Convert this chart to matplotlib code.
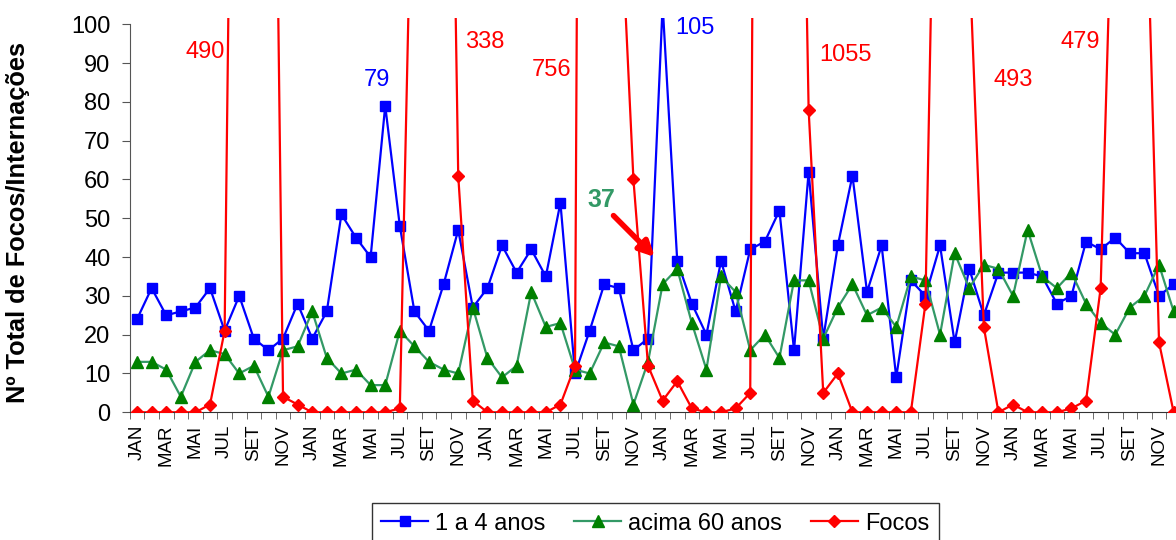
import matplotlib
matplotlib.use("Agg")
import matplotlib.pyplot as plt
import numpy as np

plt.rcParams['font.family'] = ['Liberation Sans', 'DejaVu Sans']

# monthly series, 6 years (JAN..DEZ)
months = ['JAN', 'FEV', 'MAR', 'ABR', 'MAI', 'JUN',
          'JUL', 'AGO', 'SET', 'OUT', 'NOV', 'DEZ'] * 6

idade_1a4 = [24, 32, 25, 26, 27, 32, 21, 30, 19, 16, 19, 28,
             19, 26, 51, 45, 40, 79, 48, 26, 21, 33, 47, 27,
             32, 43, 36, 42, 35, 54, 10, 21, 33, 32, 16, 19,
             105, 39, 28, 20, 39, 26, 42, 44, 52, 16, 62, 19,
             43, 61, 31, 43, 9, 34, 30, 43, 18, 37, 25, 36,
             36, 36, 35, 28, 30, 44, 42, 45, 41, 41, 30, 33]

acima_60 = [13, 13, 11, 4, 13, 16, 15, 10, 12, 4, 16, 17,
            26, 14, 10, 11, 7, 7, 21, 17, 13, 11, 10, 27,
            14, 9, 12, 31, 22, 23, 11, 10, 18, 17, 2, 13,
            33, 37, 23, 11, 35, 31, 16, 20, 14, 34, 34, 19,
            27, 33, 25, 27, 22, 35, 34, 20, 41, 32, 38, 37,
            30, 47, 35, 32, 36, 28, 23, 20, 27, 30, 38, 26]

focos = [0, 0, 0, 0, 0, 2, 21, 339, 490, 307, 4, 2,
         0, 0, 0, 0, 0, 0, 1, 174, 338, 300, 61, 3,
         0, 0, 0, 0, 0, 2, 12, 756, 500, 140, 60, 12,
         3, 8, 1, 0, 0, 1, 5, 700, 1055, 284, 78, 5,
         10, 0, 0, 0, 0, 0, 28, 230, 493, 118, 22, 0,
         2, 0, 0, 0, 1, 3, 32, 163, 479, 154, 18, 0]

# off-scale values written on the chart
peak_labels = ['490', '79', '338', '756', '105', '1055', '493', '479']
peak_colors = ['red', 'blue', 'red', 'red', 'blue', 'red', 'red', 'red']
peak_pos = [(4.66, 92.8), (16.4, 85.6), (23.8, 95.4), (28.4, 88.2),
            (38.2, 99.0), (48.5, 92.0), (60.0, 85.6), (64.6, 95.4)]

x = np.arange(len(months))

fig = plt.figure(figsize=(11.76, 5.4), dpi=100)
ax = fig.add_axes([0.1103, 0.2365, 0.8939, 0.7293])

ax.plot(x, idade_1a4, color='#0000FF', lw=1.6, marker='s', ms=7.5,
        mfc='#0000FF', mec='#0000FF', label='1 a 4 anos', zorder=3)
ax.plot(x, acima_60, color='#339966', lw=1.6, marker='^', ms=8.5,
        mfc='#008000', mec='#008000', label='acima 60 anos', zorder=3)
ax.plot(x, focos, color='#FF0000', lw=1.6, marker='D', ms=6.5,
        mfc='#FF0000', mec='#FF0000', label='Focos', zorder=4)

ax.set_xlim(-0.5, len(months) - 0.5)
ax.set_ylim(0, 101.5)

for sp in ['top', 'right']:
    ax.spines[sp].set_visible(False)
ax.spines['left'].set_bounds(0, 100)
ax.spines['left'].set_color('#555555')
ax.spines['bottom'].set_color('#333333')

ax.set_yticks(np.arange(0, 101, 10))
ax.tick_params(axis='y', labelsize=17, length=6, direction='out', pad=8,
               color='#555555')
ax.set_xticks(x[::2])
ax.set_xticklabels(months[::2], rotation=90, fontsize=13.5)
ax.set_xticks(np.arange(-0.5, len(months), 1), minor=True)
ax.tick_params(axis='x', which='major', length=0, pad=9)
ax.tick_params(axis='x', which='minor', length=5, direction='out',
               color='#555555')

ax.set_ylabel('Nº Total de Focos/Internações', fontsize=18.3,
              fontweight='bold')
ax.yaxis.set_label_coords(-0.095, 0.483)

for lab, col, (tx, ty) in zip(peak_labels, peak_colors, peak_pos):
    ax.text(tx, ty, lab, color=col, fontsize=17, ha='center', va='center')

ax.text(31.8, 54.8, '37', color='#339966', fontsize=18, fontweight='bold',
        ha='center', va='center')
ax.annotate('', xy=(35.6, 39.5), xytext=(32.5, 51.2),
            arrowprops=dict(arrowstyle='-|>,head_length=0.9,head_width=0.45',
                            color='#FF0000', lw=4))

fig.legend(loc='upper center', bbox_to_anchor=(0.557, 0.09), ncol=3,
           fontsize=17, frameon=True, fancybox=False, edgecolor='black',
           handlelength=2.0, handletextpad=0.3, columnspacing=1.2,
           borderpad=0.4)

fig.savefig('out.png', dpi=100)
